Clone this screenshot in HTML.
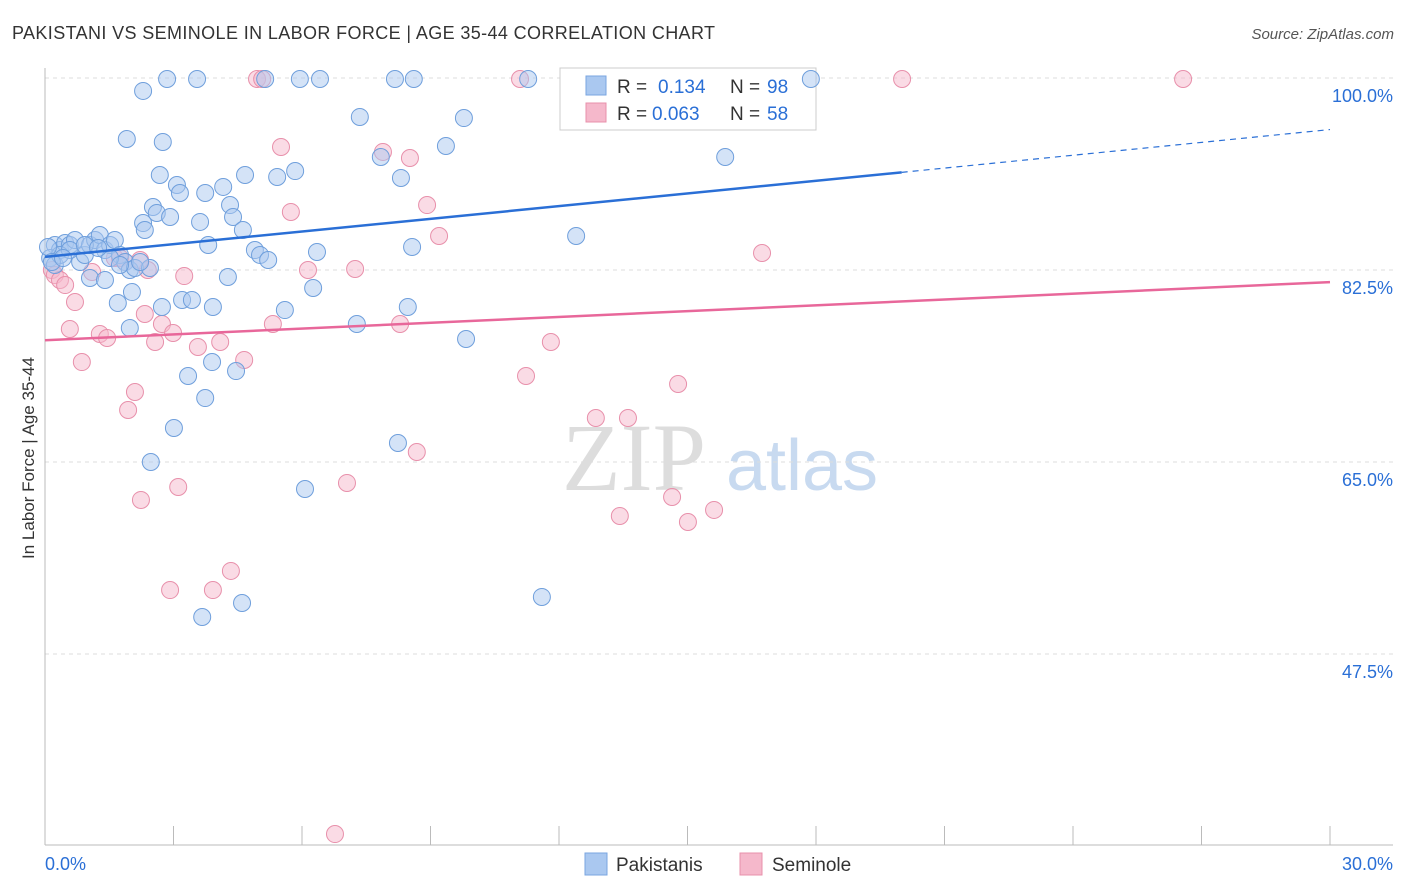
<!DOCTYPE html>
<html><head><meta charset="utf-8"><style>
body{margin:0;background:#fff;font-family:"Liberation Sans",sans-serif;}
#wrap{position:relative;width:1406px;height:892px;overflow:hidden}
</style></head><body>
<div id="wrap">
<svg id="svg" width="1406" height="892" xmlns="http://www.w3.org/2000/svg">
<text x="12" y="39" font-size="18" fill="#333" textLength="703">PAKISTANI VS SEMINOLE IN LABOR FORCE | AGE 35-44 CORRELATION CHART</text>
<text x="1394" y="39" font-size="15" fill="#555" text-anchor="end" font-style="italic">Source: ZipAtlas.com</text>
<text x="34" y="458" font-size="17" fill="#333" text-anchor="middle" transform="rotate(-90 34 458)">In Labor Force | Age 35-44</text>
<g>
<text x="634" y="490" font-size="96" fill="#ddd" text-anchor="middle" font-family="Liberation Serif,serif">ZIP</text>
<text x="802" y="490" font-size="72" fill="#c8daf0" text-anchor="middle">atlas</text>
</g>
<g id="grid"></g>
<g>
<rect x="560" y="68" width="256" height="62" fill="#fff" stroke="#ccc"/>
<rect x="586" y="76" width="20" height="19" fill="#aac8f0" stroke="#7aa6e0"/>
<text x="617" y="93" font-size="19" fill="#333">R =</text>
<text x="658" y="93" font-size="19" fill="#2a6fd6">0.134</text>
<text x="730" y="93" font-size="19" fill="#333">N =</text>
<text x="767" y="93" font-size="19" fill="#2a6fd6">98</text>
<rect x="586" y="103" width="20" height="19" fill="#f5b8cb" stroke="#e890ab"/>
<text x="617" y="120" font-size="19" fill="#333">R =</text>
<text x="652" y="120" font-size="19" fill="#2a6fd6">0.063</text>
<text x="730" y="120" font-size="19" fill="#333">N =</text>
<text x="767" y="120" font-size="19" fill="#2a6fd6">58</text>
</g>
<g id="marks"></g>
<g>
<rect x="585" y="853" width="22" height="22" fill="#aac8f0" stroke="#7aa6e0"/>
<text x="616" y="871" font-size="19" fill="#333">Pakistanis</text>
<rect x="740" y="853" width="22" height="22" fill="#f5b8cb" stroke="#e890ab"/>
<text x="772" y="871" font-size="19" fill="#333">Seminole</text>
</g>
<text x="45" y="870" font-size="18" fill="#2a6fd6">0.0%</text>
<text x="1393" y="870" font-size="18" fill="#2a6fd6" text-anchor="end">30.0%</text>
</svg></div>
<script>
const yTicks=[100,82.5,65,47.5];
const yTickLabels=["100.0%","82.5%","65.0%","47.5%"];
const bluePx=[[55,245],[60,250],[65,243],[70,245],[75,240],[50,258],[55,265],[80,262],[85,255],[90,245],[95,240],[100,235],[105,250],[110,245],[115,240],[120,255],[125,262],[130,270],[135,268],[90,278],[105,280],[118,303],[130,328],[132,292],[143,223],[145,230],[153,207],[157,213],[170,217],[160,175],[177,185],[180,193],[200,222],[205,193],[208,245],[223,187],[230,205],[233,217],[243,230],[228,277],[245,175],[255,250],[260,255],[268,260],[277,177],[295,171],[285,310],[313,288],[317,252],[143,91],[127,139],[163,142],[167,79],[197,79],[265,79],[300,79],[320,79],[360,117],[381,157],[395,79],[414,79],[401,178],[446,146],[464,118],[528,79],[811,79],[725,157],[576,236],[412,247],[408,307],[357,324],[466,339],[162,307],[182,300],[192,300],[213,307],[188,376],[212,362],[236,371],[205,398],[174,428],[151,462],[398,443],[305,489],[242,603],[202,617],[542,597],[60,255],[70,250],[48,247],[52,262],[63,258],[110,258],[120,265],[150,268],[85,245],[98,248],[140,262]];
const pinkPx=[[52,270],[55,275],[60,280],[65,285],[75,302],[70,329],[82,362],[92,272],[100,334],[107,338],[115,258],[125,262],[148,270],[135,392],[128,410],[141,500],[145,314],[155,342],[162,324],[173,333],[178,487],[184,276],[198,347],[220,342],[244,360],[170,590],[213,590],[231,571],[257,79],[262,79],[281,147],[291,212],[273,324],[308,270],[347,483],[355,269],[335,834],[383,152],[410,158],[400,324],[417,452],[427,205],[439,236],[520,79],[526,376],[551,342],[596,418],[620,516],[628,418],[672,497],[678,384],[688,522],[714,510],[762,253],[902,79],[1183,79],[140,260],[120,258]];
const blueX=bluePx.map(p=>+((p[0]-45)/1285*30).toFixed(2));
const blueY=bluePx.map(p=>+(100-(p[1]-78)/192*17.5).toFixed(2));
const pinkX=pinkPx.map(p=>+((p[0]-45)/1285*30).toFixed(2));
const pinkY=pinkPx.map(p=>+(100-(p[1]-78)/192*17.5).toFixed(2));
const blueTrend=[[0,83.7],[20,91.4],[30,95.3]];
const pinkTrend=[[0,76.1],[30,81.4]];
const sx=v=>45+v/30*1285, sy=v=>78+(100-v)/17.5*192;
const NS="http://www.w3.org/2000/svg";
const grid=document.getElementById('grid'), marks=document.getElementById('marks');
function mk(tag,attrs,parent){const e=document.createElementNS(NS,tag);for(const k in attrs)e.setAttribute(k,attrs[k]);parent.appendChild(e);return e;}
yTicks.forEach((t,i)=>{
 const l=mk('line',{x1:45,x2:1393,y1:sy(t),y2:sy(t),stroke:'#ddd','stroke-dasharray':'4 4'},grid);
 
 
 const tx=mk('text',{x:1393,y:sy(t)+24,'font-size':18,fill:'#2a6fd6','text-anchor':'end'},grid);
 tx.textContent=yTickLabels[i];
 
 
});
mk('line',{x1:45,x2:45,y1:68,y2:845,stroke:'#bbb'},grid);
mk('line',{x1:45,x2:1393,y1:845,y2:845,stroke:'#bbb'},grid);
for(let i=0;i<=10;i++){const t=mk('line',{x1:sx(i*3),x2:sx(i*3),y1:826,y2:845,stroke:'#bbb'},grid);
 
 }
function dots(X,Y,fill,stroke,name){X.forEach((x,i)=>{const c=mk('circle',{cx:sx(x),cy:sy(Y[i]),r:8.5,fill:fill,'fill-opacity':0.5,stroke:stroke,'stroke-width':1},marks);
 
 });}
dots(pinkX,pinkY,'#f5b8cb','#e890ab','seminole-point');
dots(blueX,blueY,'#aac8f0','#6f9fdc','pakistani-point');
let b=mk('line',{x1:sx(blueTrend[0][0]),y1:sy(blueTrend[0][1]),x2:sx(blueTrend[1][0]),y2:sy(blueTrend[1][1]),stroke:'#2a6fd6','stroke-width':2.5},marks);


b=mk('line',{x1:sx(blueTrend[1][0]),y1:sy(blueTrend[1][1]),x2:sx(blueTrend[2][0]),y2:sy(blueTrend[2][1]),stroke:'#2a6fd6','stroke-width':1.2,'stroke-dasharray':'6 5'},marks);


const p=mk('line',{x1:sx(pinkTrend[0][0]),y1:sy(pinkTrend[0][1]),x2:sx(pinkTrend[1][0]),y2:sy(pinkTrend[1][1]),stroke:'#e8679a','stroke-width':2.5},marks);


</script>
</body></html>
